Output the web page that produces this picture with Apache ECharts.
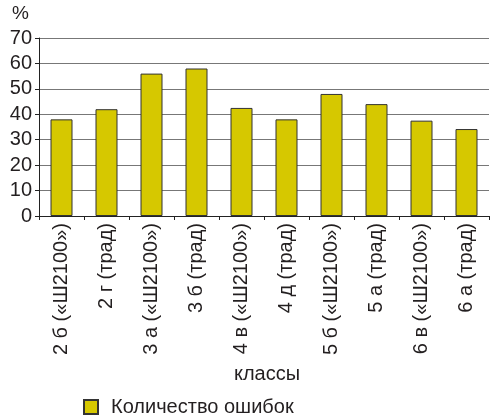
<!DOCTYPE html>
<html>
<head>
<meta charset="utf-8">
<script src="https://cdn.jsdelivr.net/npm/echarts@6/dist/echarts.min.js"></script>
<style>
  html, body { margin: 0; padding: 0; background: #fff; }
  #chart { width: 492px; height: 419px; }
</style>
</head>
<body>
<div id="chart"></div>
<script>
// классы
var categories = ['2 б («Ш2100»)', '2 г (трад)', '3 а («Ш2100»)', '3 б (трад)', '4 в («Ш2100»)',
  '4 д (трад)', '5 б («Ш2100»)', '5 а (трад)', '6 в («Ш2100»)', '6 а (трад)']
// количество ошибок, %
var errors = [38, 42, 56, 58, 42.5, 38, 48, 44, 37.5, 34.2]
var yTicks = [0, 10, 20, 30, 40, 50, 60, 70]

var font = "'Liberation Sans', Arial, sans-serif"
var ink = '#231f20'

var myChart = echarts.init(document.getElementById('chart'))
myChart.setOption({
  animation: false,
  textStyle: { fontFamily: font, color: ink },
  grid: {
    left: 39,
    right: 3,
    top: 38,
    bottom: 203
  },
  legend: {
    left: 83,
    top: 397,
    padding: 0,
    itemWidth: 14,
    itemHeight: 14,
    icon: 'rect',
    textStyle: { fontSize: 20, color: ink, fontFamily: font, padding: [0, 0, 0, 8] },
    data: ['Количество ошибок']
  },
  xAxis: {
    type: 'category',
    data: categories,
    name: 'классы',
    nameLocation: 'middle',
    nameGap: 148,
    nameTextStyle: { fontSize: 20, color: ink, fontFamily: font, padding: [0, 0, 0, 6] },
    axisLine: { lineStyle: { color: '#222', width: 1 } },
    axisTick: { show: true, length: 4, lineStyle: { color: '#222' } },
    axisLabel: {
      rotate: 90,
      interval: 0,
      margin: 7,
      fontSize: 20,
      color: ink,
      fontFamily: font
    }
  },
  yAxis: {
    type: 'value',
    min: yTicks[0],
    max: yTicks[yTicks.length - 1],
    interval: 10,
    name: '%',
    nameLocation: 'end',
    nameGap: 15,
    nameTextStyle: { fontSize: 19, color: ink, fontFamily: font, align: 'right', padding: [0, 10, 0, 0] },
    axisLine: { show: true, lineStyle: { color: '#222', width: 1 } },
    axisTick: { show: true, length: 4, lineStyle: { color: '#222' } },
    axisLabel: { margin: 7, fontSize: 20, color: ink, fontFamily: font },
    splitLine: { lineStyle: { color: '#777', width: 1 } }
  },
  series: [{
    name: 'Количество ошибок',
    type: 'bar',
    data: errors,
    barWidth: 22,
    itemStyle: {
      color: '#d6c800',
      borderColor: '#333',
      borderWidth: 1
    }
  }]
}, true)
</script>
</body>
</html>
